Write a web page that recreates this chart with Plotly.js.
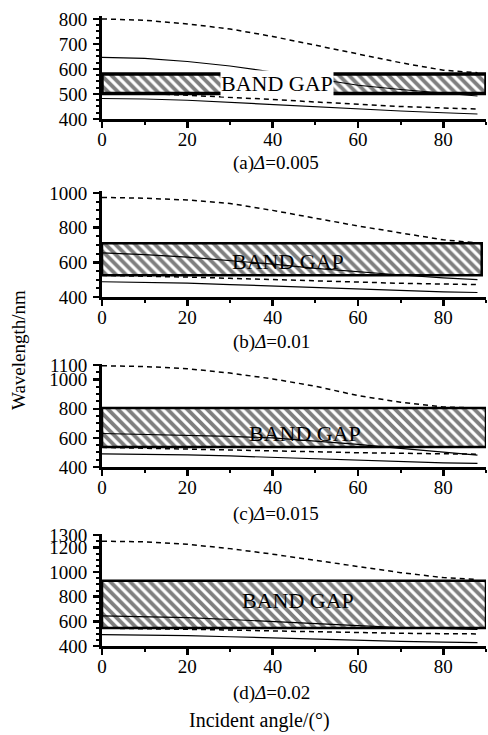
<!DOCTYPE html>
<html><head><meta charset="utf-8">
<script src="https://cdn.plot.ly/plotly-3.0.1.min.js"></script>
<style>html,body{margin:0;padding:0;background:#fff}#chart{width:488px;height:735px}</style>
</head><body><div id="chart"></div>
<script>
// ---- data ----
const angles = [0, 10, 20, 30, 40, 50, 60, 70, 80, 88];
const panelLabels = ['(a)', '(b)', '(c)', '(d)'];
const deltaValues = ['0.005', '0.01', '0.015', '0.02'];

const upperDashedA = [800, 795, 780, 760, 730, 695, 660, 625, 595, 585];
const upperSolidA  = [646, 642, 630, 612, 588, 560, 535, 518, 503, 492];
const lowerDashedA = [505, 502, 495, 488, 478, 468, 458, 450, 444, 440];
const lowerSolidA  = [482, 480, 475, 466, 458, 450, 440, 432, 425, 420];

const upperDashedB = [975, 970, 960, 940, 900, 855, 810, 770, 730, 712];
const upperSolidB  = [655, 645, 630, 612, 590, 565, 545, 527, 510, 500];
const lowerDashedB = [525, 522, 515, 508, 500, 492, 485, 479, 475, 472];
const lowerSolidB  = [488, 486, 480, 472, 463, 453, 444, 436, 430, 426];

const upperDashedC = [1095, 1090, 1075, 1045, 1005, 955, 890, 845, 812, 805];
const upperSolidC  = [630, 625, 618, 610, 600, 580, 555, 528, 500, 482];
const lowerDashedC = [535, 530, 525, 518, 512, 505, 498, 493, 490, 488];
const lowerSolidC  = [490, 488, 484, 476, 466, 455, 445, 436, 428, 425];

const upperDashedD = [1250, 1245, 1225, 1190, 1145, 1095, 1045, 995, 955, 940];
const upperSolidD  = [645, 640, 630, 615, 597, 580, 565, 550, 540, 535];
const lowerDashedD = [545, 542, 537, 530, 522, 515, 508, 503, 500, 498];
const lowerSolidD  = [492, 490, 484, 475, 465, 455, 446, 438, 432, 428];

const gapLow  = [502, 525, 538, 545];
const gapHigh = [580, 710, 805, 930];
const gapEnd  = [90, 89, 90, 90];

const yTicksA = [400, 500, 600, 700, 800];
const yTicksB = [400, 600, 800, 1000];
const yTicksC = [400, 600, 800, 1000, 1100];
const yTicksD = [400, 600, 800, 1000, 1200, 1300];
const xTicks  = [0, 20, 40, 60, 80];

// ---- build ----
const series = [
  [upperDashedA, upperSolidA, lowerDashedA, lowerSolidA],
  [upperDashedB, upperSolidB, lowerDashedB, lowerSolidB],
  [upperDashedC, upperSolidC, lowerDashedC, lowerSolidC],
  [upperDashedD, upperSolidD, lowerDashedD, lowerSolidD]
];
const yTicks = [yTicksA, yTicksB, yTicksC, yTicksD];
const yTop = [810, 1010, 1110, 1310];
const yMinor = [25, 50, 50, 50];
const yDomains = [[0.8381, 0.9776], [0.5959, 0.7397], [0.3646, 0.5053], [0.1211, 0.2737]];
const captionY = [163, 342, 514, 693];
const bandTextPos = [[41, 541], [43.5, 603], [47.5, 632], [46, 770]];

const FONT = 'Liberation Serif';
const traces = [];
const layout = {
  width: 488, height: 735,
  margin: {l: 0, r: 0, t: 0, b: 0},
  paper_bgcolor: '#fff', plot_bgcolor: 'rgba(0,0,0,0)',
  showlegend: false,
  font: {family: FONT, size: 19, color: '#000'},
  annotations: [],
  barmode: 'overlay'
};

for (let i = 0; i < 4; i++) {
  const sx = i === 0 ? '' : String(i + 1);
  const xa = 'x' + sx, ya = 'y' + sx;
  traces.push({
    type: 'bar', xaxis: xa, yaxis: ya,
    x: [gapEnd[i] / 2], width: [gapEnd[i]],
    base: [gapLow[i]], y: [gapHigh[i] - gapLow[i]],
    marker: {
      color: '#fff',
      line: {color: '#000', width: i === 0 ? 3.5 : 2.5},
      pattern: {shape: '\\', fgcolor: '#000', bgcolor: '#fff', size: 7, solidity: 0.55, fillmode: 'overlay'}
    },
    hoverinfo: 'skip'
  });
  const styles = [
    {dash: '5px,4px', width: 1.5},
    {dash: 'solid', width: 1.2},
    {dash: '5px,4px', width: 1.5},
    {dash: 'solid', width: 1.2}
  ];
  series[i].forEach((ys, k) => {
    traces.push({
      type: 'scatter', mode: 'lines', xaxis: xa, yaxis: ya,
      x: angles, y: ys, line: {color: '#000', width: styles[k].width, dash: styles[k].dash},
      hoverinfo: 'skip'
    });
  });
  layout['xaxis' + sx] = {
    domain: [102 / 488, 486 / 488], anchor: ya, range: [0, 90],
    showline: true, linewidth: 3, linecolor: '#000', showgrid: false, zeroline: false,
    tickmode: 'array', tickvals: xTicks, ticktext: xTicks.map(String),
    ticks: 'outside', ticklen: 6, tickwidth: 2.5, tickcolor: '#000',
    minor: {dtick: 10, tick0: 0, ticks: 'outside', ticklen: 3, tickwidth: 2, tickcolor: '#000', showgrid: false},
    tickfont: {family: FONT, size: 19, color: '#000'}, ticklabelstandoff: -5, fixedrange: true
  };
  layout['yaxis' + sx] = {
    domain: yDomains[i], anchor: xa, range: [400, yTop[i]],
    showline: true, linewidth: 3, linecolor: '#000', showgrid: false, zeroline: false,
    tickmode: 'array', tickvals: yTicks[i], ticktext: yTicks[i].map(String),
    ticks: 'outside', ticklen: 6, tickwidth: 2.5, tickcolor: '#000',
    minor: {dtick: yMinor[i], tick0: 400, ticks: 'outside', ticklen: 3, tickwidth: 2, tickcolor: '#000', showgrid: false},
    tickfont: {family: FONT, size: 19, color: '#000'}, ticklabelstandoff: 2, fixedrange: true
  };
  layout.annotations.push({
    xref: xa, yref: ya, x: bandTextPos[i][0], y: bandTextPos[i][1],
    text: 'BAND GAP', showarrow: false,
    font: {family: FONT, size: 22, color: '#000'},
    bgcolor: i === 0 ? '#fff' : 'rgba(0,0,0,0)', borderpad: 0
  });
  layout.annotations.push({
    xref: 'paper', yref: 'paper', x: 231 / 488, y: 1 - captionY[i] / 735,
    xanchor: 'left', yanchor: 'middle',
    text: panelLabels[i] + '<i>Δ</i>=' + deltaValues[i], showarrow: false,
    font: {family: FONT, size: 19, color: '#000'}
  });
}
layout.annotations.push({
  xref: 'paper', yref: 'paper', x: 259 / 488, y: 1 - 720 / 735,
  xanchor: 'center', yanchor: 'middle', text: 'Incident angle/(°)', showarrow: false,
  font: {family: FONT, size: 20, color: '#000'}
});
layout.annotations.push({
  xref: 'paper', yref: 'paper', x: 18 / 488, y: 1 - 350 / 735,
  xanchor: 'center', yanchor: 'middle', text: 'Wavelength/nm', textangle: -90, showarrow: false,
  font: {family: FONT, size: 19, color: '#000'}
});

Plotly.newPlot('chart', traces, layout, {staticPlot: true, displayModeBar: false});
</script></body></html>
